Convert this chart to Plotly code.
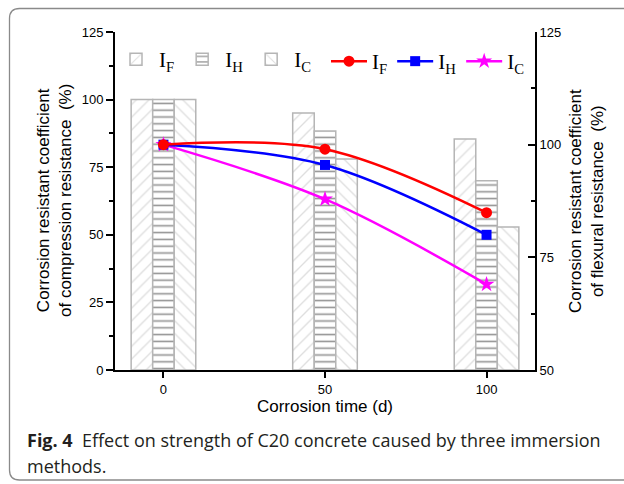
import plotly.graph_objects as go

# ---- data ----
days = [0, 50, 100]
tick_labels = ["0", "50", "100"]
compress_F = [100.0, 95.0, 85.4]
compress_H = [100.0, 88.4, 70.0]
compress_C = [100.0, 78.0, 52.9]
flex_F = [100.0, 99.0, 84.9]
flex_H = [100.0, 95.5, 80.0]
flex_C = [100.0, 87.9, 69.0]

W, H = 624, 484
L, R, T, B = 115, 89, 32, 114
PW, PH = W - L - R, H - T - B


def px_x(p):
    return (p - L) / PW


def px_y(p):
    return (H - B - p) / PH


sub = lambda s: "I<sub>%s</sub>" % s

fig = go.Figure()

bar_specs = [
    ("F", compress_F, "/", "#bdbdbd", 9, 0.15),
    ("H", compress_H, "-", "#2a2a2a", 6.8, 0.24),
    ("C", compress_C, "\\", "#bdbdbd", 9, 0.15),
]
for name, vals, shape, fg, size, sol in bar_specs:
    fig.add_trace(go.Bar(
        x=days, y=vals, name=sub(name), legend="legend",
        marker=dict(color="white",
                    line=dict(color="#b5b5b5", width=1.5),
                    pattern=dict(shape=shape, fgcolor=fg, bgcolor="white",
                                 size=size, solidity=sol)),
        yaxis="y",
    ))

line_specs = [
    ("C", flex_C, "#ff00ff", "star", 12),
    ("H", flex_H, "#0000ff", "square", 10),
    ("F", flex_F, "#ff0000", "circle", 11),
]
for name, vals, col, sym, msize in line_specs:
    fig.add_trace(go.Scatter(
        x=days, y=vals, name=sub(name), legend="legend2",
        mode="lines+markers",
        line=dict(color=col, width=2.5, shape="spline", smoothing=1.0),
        marker=dict(color=col, symbol=sym, size=msize),
        yaxis="y2",
    ))

axis_font = dict(family="Liberation Sans, Arial", size=13, color="black")
title_font = dict(family="Liberation Sans, Arial", size=17, color="black")
leg_font = dict(family="Liberation Serif, Times New Roman", size=21, color="black")

fig.update_layout(
    width=W, height=H,
    margin=dict(l=L, r=R, t=T, b=B),
    paper_bgcolor="white", plot_bgcolor="white",
    barmode="group", bargap=0.6, bargroupgap=0,
    showlegend=True,
    xaxis=dict(range=[-15, 115], tickvals=days, ticktext=tick_labels,
               ticks="outside", ticklen=6, tickwidth=1.5, tickcolor="black",
               showline=True, linecolor="black", linewidth=2,
               showgrid=False, zeroline=False, tickfont=axis_font,
               title=dict(text="Corrosion time (d)", font=title_font, standoff=2)),
    yaxis=dict(range=[0, 125], tick0=0, dtick=25,
               ticks="outside", ticklen=7, tickwidth=1.5, tickcolor="black",
               minor=dict(dtick=12.5, ticks="outside", ticklen=4, tickwidth=1.5,
                          tickcolor="black"),
               showline=True, linecolor="black", linewidth=2,
               showgrid=False, zeroline=False, tickfont=axis_font),
    yaxis2=dict(range=[50, 125], tick0=50, dtick=25, overlaying="y", side="right",
                ticks="inside", ticklen=7, tickwidth=1.5, tickcolor="black",
                minor=dict(dtick=12.5, ticks="inside", ticklen=4, tickwidth=1.5,
                           tickcolor="black"),
                showline=True, linecolor="black", linewidth=2,
                showgrid=False, zeroline=False, tickfont=axis_font),
    legend=dict(orientation="h", x=px_x(113), y=px_y(39), xanchor="left",
                yanchor="top", font=leg_font, bgcolor="rgba(0,0,0,0)",
                traceorder="normal", itemwidth=36),
    legend2=dict(orientation="h", x=px_x(326), y=px_y(41), xanchor="left",
                 yanchor="top", font=leg_font, bgcolor="rgba(0,0,0,0)",
                 traceorder="reversed", itemwidth=36),
)

# axis titles (two-line) as annotations
fig.add_annotation(text="Corrosion resistant coefficient<br>of compression resistance  (%)",
                   x=px_x(54), y=0.5, xref="paper", yref="paper", textangle=-90,
                   showarrow=False, font=title_font, xanchor="center", yanchor="middle")
fig.add_annotation(text="Corrosion resistant coefficient<br>of flexural resistance  (%)",
                   x=px_x(586), y=0.5, xref="paper", yref="paper", textangle=-90,
                   showarrow=False, font=title_font, xanchor="center", yanchor="middle")

# caption
cap_font = dict(family="Open Sans, Noto Sans", size=18, color="#231f20")
fig.add_annotation(text="<b>Fig. 4</b>  Effect on strength of C20 concrete caused by three immersion",
                   x=px_x(25), y=px_y(440), xref="paper", yref="paper",
                   showarrow=False, font=cap_font, xanchor="left", yanchor="middle",
                   align="left")
fig.add_annotation(text="methods.",
                   x=px_x(25), y=px_y(466), xref="paper", yref="paper",
                   showarrow=False, font=cap_font, xanchor="left", yanchor="middle",
                   align="left")

# rounded frame
x0, x1 = px_x(9.5), px_x(640)
y0, y1 = px_y(480), px_y(8.5)
rx, ry = 10 / PW, 10 / PH
path = (f"M {x0+rx},{y1} L {x1},{y1} M {x0},{y1-ry} Q {x0},{y1} {x0+rx},{y1} "
        f"M {x0},{y1-ry} L {x0},{y0+ry} Q {x0},{y0} {x0+rx},{y0} L {x1},{y0}")
fig.add_shape(type="path", path=path, xref="paper", yref="paper",
              line=dict(color="#8a8a8a", width=1.3), layer="below")

fig.write_html("out.html")
